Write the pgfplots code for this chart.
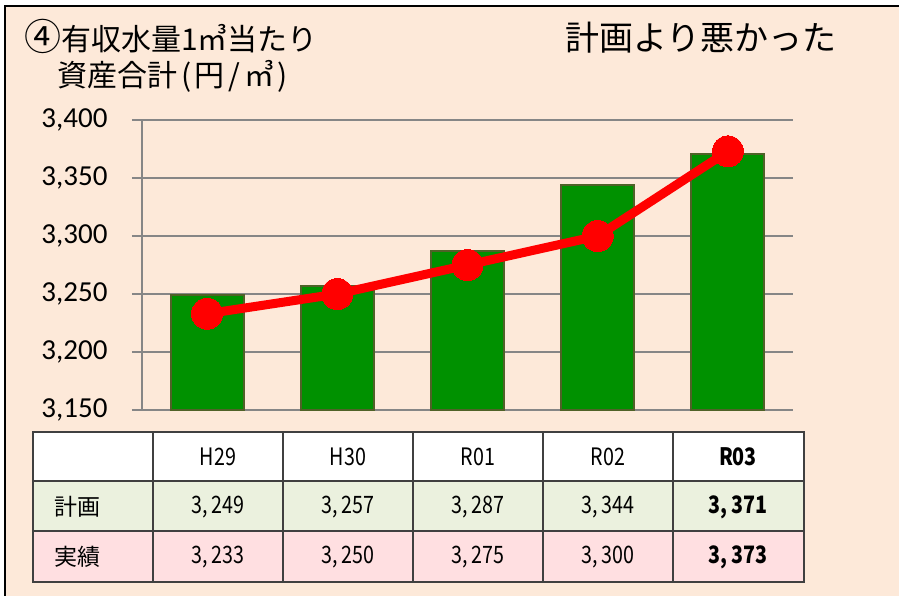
\documentclass[border=0pt]{standalone}
\usepackage{fontspec}
\setmainfont{Carlito}
\newfontfamily\jp{Noto Sans CJK JP}
\newfontfamily\jpn[FakeStretch=0.82]{Noto Sans CJK JP}
\usepackage{pgfplots}
\pgfplotsset{compat=1.18}
\definecolor{peach}{RGB}{253,233,217}
\definecolor{gridgray}{RGB}{134,134,134}
\definecolor{bargreen}{RGB}{0,145,0}
\definecolor{barborder}{RGB}{79,98,40}
\definecolor{rowgreen}{RGB}{235,241,222}
\definecolor{rowpink}{RGB}{255,223,225}
\definecolor{tablegray}{RGB}{64,64,64}
\begin{document}
\begin{tikzpicture}
\useasboundingbox (0pt,0pt) rectangle (899pt,-596pt);
\begin{scope}[x=1pt,y=-1pt]
\fill[white] (0,0) rectangle (899,596);
\fill[peach] (5,6) rectangle (899,596);
\draw[black, line width=2pt] (5,596) -- (5,6) -- (899,6);
\node[anchor=west, inner sep=0pt] at (24,36) {\jp\fontsize{30}{32}\selectfont {\fontsize{37}{38}\selectfont ④}有収水量1㎥当たり};
\node[anchor=west, inner sep=0pt] at (57,76) {\jp\fontsize{30}{32}\selectfont 資産合計\hspace{4pt}(\hspace{3pt}円\hspace{4pt}/\hspace{4pt}㎥\hspace{3pt})};
\node[anchor=center, inner sep=0pt] at (701,38) {\jp\fontsize{34}{36}\selectfont 計画より悪かった};
\end{scope}
\begin{axis}[
  at={(142pt,-410pt)}, anchor=south west,
  scale only axis, width=651pt, height=290pt,
  xmin=-0.5, xmax=4.5, ymin=3150, ymax=3400,
  ytick={3150,3200,3250,3300,3350,3400},
  xtick=\empty,
  axis x line=bottom, axis y line=left,
  axis line style={-, draw=gridgray, line width=2pt},
  ymajorgrids, grid style={draw=gridgray, line width=2pt},
  tick align=outside, major tick length=10pt,
  tick style={draw=gridgray, line width=2pt},
  yticklabel style={font=\fontsize{29}{31}\selectfont, text=black, xshift=-21pt, /pgf/number format/assume math mode=true},
]
\addplot[ybar, bar width=0.56, fill=bargreen, draw=barborder, line width=2pt]
  coordinates {(0,3249) (1,3257) (2,3287) (3,3344) (4,3371)};
\addplot[red, line width=9pt, mark=*, mark size=15.5pt, mark options={fill=red, draw=red, line width=0pt}]
  coordinates {(0,3233) (1,3250) (2,3275) (3,3300) (4,3373)};
\end{axis}
\begin{scope}[x=1pt,y=-1pt]
\fill[white] (33,432) rectangle (804,481);
\fill[rowgreen] (33,481) rectangle (804,531);
\fill[rowpink] (33,531) rectangle (804,582);
\draw[tablegray, line width=2.5pt] (33,432) rectangle (804,582);
\draw[tablegray, line width=2.5pt] (33,481) -- (804,481) (33,531) -- (804,531);
\foreach \x in {153,283,413,543,673} \draw[tablegray, line width=2.5pt] (\x,432) -- (\x,582);
\foreach \c/\h/\p/\r in {218/H29/249/233, 348/H30/257/250, 478/R01/287/275, 608/R02/344/300} {
  \node[inner sep=0pt] at (\c,457) {\jpn\fontsize{24}{26}\selectfont \h};
  \node[inner sep=0pt] at (\c,507) {\jpn\fontsize{24}{26}\selectfont 3,\,\p};
  \node[inner sep=0pt] at (\c,557) {\jpn\fontsize{24}{26}\selectfont 3,\,\r};
}
\node[inner sep=0pt] at (738,457) {\jpn\bfseries\fontsize{24}{26}\selectfont R03};
\node[inner sep=0pt] at (738,507) {\jpn\bfseries\fontsize{24}{26}\selectfont 3,\,371};
\node[inner sep=0pt] at (738,557) {\jpn\bfseries\fontsize{24}{26}\selectfont 3,\,373};
\node[anchor=west, inner sep=0pt] at (54,507) {\jp\fontsize{23}{25}\selectfont 計画};
\node[anchor=west, inner sep=0pt] at (54,557) {\jp\fontsize{23}{25}\selectfont 実績};
\end{scope}
\end{tikzpicture}
\end{document}
